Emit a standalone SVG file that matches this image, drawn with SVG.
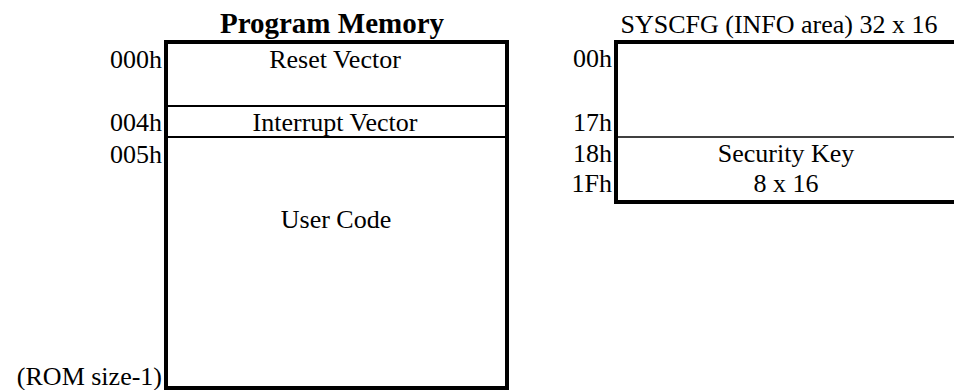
<svg xmlns="http://www.w3.org/2000/svg" width="954" height="390" viewBox="0 0 954 390">
<style>
text{font-family:"Liberation Serif","Times New Roman",serif;font-size:26px;fill:#000}
.t{font-weight:bold;font-size:29px}
.m{text-anchor:middle}
.r{text-anchor:end}
.box{fill:none;stroke:#000;stroke-width:4}
.div{stroke:#000;stroke-width:2}
.thin{stroke:#000;stroke-width:1.5}
</style>
<rect width="954" height="390" fill="#fff"/>
<g id="program-memory">
<text class="t m" x="332" y="33">Program Memory</text>
<rect class="box" x="166" y="42" width="341" height="346"/>
<line class="div" x1="166" y1="106" x2="507" y2="106"/>
<line class="div" x1="166" y1="137" x2="507" y2="137"/>
<text class="m" x="335" y="68">Reset Vector</text>
<text class="m" x="335" y="131">Interrupt Vector</text>
<text class="m" x="336" y="228">User Code</text>
<text class="r" x="162" y="68">000h</text>
<text class="r" x="162" y="131">004h</text>
<text class="r" x="162" y="163">005h</text>
<text class="r" x="162" y="385">(ROM size-1)</text>
</g>
<g id="syscfg">
<text class="m" x="779" y="33">SYSCFG (INFO area) 32 x 16</text>
<path class="box" d="M958 42 H616 V202 H958"/>
<line class="thin" x1="616" y1="137" x2="954" y2="137"/>
<text class="m" x="786" y="162">Security Key</text>
<text class="m" x="786" y="192">8 x 16</text>
<text class="r" x="612" y="67">00h</text>
<text class="r" x="612" y="131">17h</text>
<text class="r" x="612" y="162">18h</text>
<text class="r" x="612" y="192">1Fh</text>
</g>
</svg>
